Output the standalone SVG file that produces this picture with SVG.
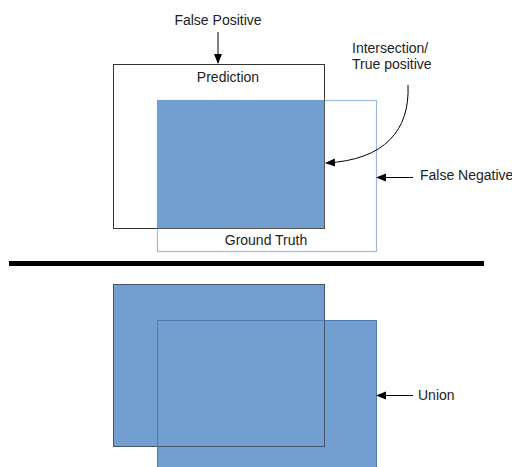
<svg xmlns="http://www.w3.org/2000/svg" width="512" height="467" viewBox="0 0 512 467">
<style>
text{font-family:"Liberation Sans",Arial,sans-serif;font-size:14px;fill:#222}
.pred{fill:none;stroke:#333;stroke-width:1}
.gt{fill:none;stroke:#9db9dd;stroke-width:1.2}
.blue{fill:#729fcf}
.predo{fill:none;stroke:#46566c;stroke-width:1}
.gto{fill:none;stroke:#4f7bb3;stroke-width:1}
.conn{fill:none;stroke:#000;stroke-width:1}
</style>
<defs>
<marker id="ah" viewBox="0 0 10 10" refX="9" refY="5" markerWidth="10" markerHeight="10" markerUnits="userSpaceOnUse" orient="auto">
<path d="M0,1 L10,5 L0,9 Z" fill="#000"/>
</marker>
</defs>
<rect width="512" height="467" fill="#fff"/>
<g id="prediction-top">
<rect class="pred" x="113.5" y="64.5" width="211" height="164"/>
<text x="228" y="82" text-anchor="middle">Prediction</text>
</g>
<g id="ground-truth-top">
<rect class="gt" x="157.5" y="100.5" width="219" height="151"/>
<text x="266" y="245" text-anchor="middle">Ground Truth</text>
</g>
<g id="intersection">
<rect class="blue" x="157" y="100" width="167" height="128"/>
<line x1="324.5" y1="100" x2="324.5" y2="228" stroke="#555" stroke-width="1"/>
<line x1="157" y1="228.5" x2="324" y2="228.5" stroke="#555" stroke-width="1"/>
</g>
<g id="false-positive">
<text x="218" y="25" text-anchor="middle">False Positive</text>
</g>
<g id="intersection-label">
<text x="352" y="53">Intersection/</text>
<text x="352" y="69">True positive</text>
</g>
<g id="false-negative">
<text x="420" y="180">False Negative</text>
</g>
<g id="divider">
<line x1="9" y1="263.5" x2="484" y2="263.5" stroke="#000" stroke-width="5"/>
</g>
<g id="union-fill">
<rect class="blue" x="113" y="284" width="212" height="163"/>
<rect class="blue" x="157" y="320" width="220" height="152"/>
</g>
<g id="prediction-bottom">
<rect class="predo" x="113.5" y="284.5" width="211" height="162"/>
</g>
<g id="ground-truth-bottom">
<rect class="gto" x="157.5" y="320.5" width="219" height="151"/>
</g>
<g id="union">
<text x="418" y="400">Union</text>
</g>
<g id="connectors">
<line class="conn" x1="218" y1="32" x2="218" y2="63" marker-end="url(#ah)"/>
<path class="conn" d="M408,85 C410,130 385,160 326,163" marker-end="url(#ah)"/>
<line class="conn" x1="413" y1="177.5" x2="377" y2="177.5" marker-end="url(#ah)"/>
<line class="conn" x1="413" y1="395.5" x2="377" y2="395.5" marker-end="url(#ah)"/>
</g>
</svg>
